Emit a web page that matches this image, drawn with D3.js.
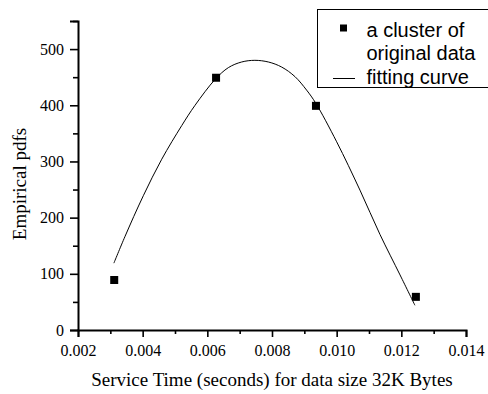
<!DOCTYPE html>
<html>
<head>
<meta charset="utf-8">
<script src="https://cdn.jsdelivr.net/npm/d3@7"></script>
<style>
  body { margin: 0; background: #fff; }
  svg { display: block; }
</style>
</head>
<body>
<div id="chart"></div>
<script>
// observed data cluster
var pointX = [0.00312, 0.00627, 0.00936, 0.01245];
var pointY = [89, 449, 399, 59];

// fitting curve
var curveX = [0.00311, 0.00345, 0.00402, 0.00459, 0.00521, 0.00562, 0.00624, 0.00665, 0.00706, 0.00747,
              0.00789, 0.00830, 0.00871, 0.00907, 0.00935, 0.01000, 0.01072, 0.01134, 0.01196, 0.01242];
var curveY = [119, 166, 239, 304, 364, 400, 446, 467, 477, 480,
              477, 468, 451, 427, 404, 335, 249, 170, 98, 44];

var xTicks = [0.002, 0.004, 0.006, 0.008, 0.010, 0.012, 0.014];
var yTicks = [0, 100, 200, 300, 400, 500];
var legendLabels = ["a cluster of", "original data", "fitting curve"];

var serif = "'Liberation Serif', 'Times New Roman', serif";
var sans = "'Liberation Sans', Arial, sans-serif";

var width = 488, height = 394;
var margin = {top: 21, right: 22, bottom: 64, left: 78};
var w = width - margin.left - margin.right;
var h = height - margin.top - margin.bottom;

var svg = d3.select("#chart").append("svg")
    .attr("width", width)
    .attr("height", height);

var g = svg.append("g")
    .attr("transform", "translate(" + margin.left + "," + margin.top + ")");

var x = d3.scaleLinear().domain([0.002, 0.014]).range([0, w]);
var y = d3.scaleLinear().domain([0, 550]).range([h, 0]);

// minor ticks first
g.append("g")
    .attr("class", "x minor")
    .attr("transform", "translate(0," + h + ")")
    .call(d3.axisBottom(x).tickValues(d3.range(0.003, 0.014, 0.002)).tickSize(4).tickFormat(""));
g.append("g")
    .attr("class", "y minor")
    .call(d3.axisLeft(y).tickValues(d3.range(50, 551, 100)).tickSize(5).tickFormat(""));

var xAxis = d3.axisBottom(x)
    .tickValues(xTicks)
    .tickSize(7)
    .tickPadding(8)
    .tickFormat(d3.format(".3f"));
var yAxis = d3.axisLeft(y)
    .tickValues(yTicks)
    .tickSize(8)
    .tickPadding(6)
    .tickFormat(d3.format("d"));

var gx = g.append("g")
    .attr("class", "x axis")
    .attr("transform", "translate(0," + h + ")")
    .call(xAxis);
var gy = g.append("g")
    .attr("class", "y axis")
    .call(yAxis);

[gx, gy].forEach(function(a) {
  a.attr("font-family", serif).attr("font-size", 16);
  a.selectAll("text")
    .attr("fill", "#000")
    .style("font-family", serif)
    .style("font-size", "16px");
});

g.selectAll(".domain").attr("stroke-width", 2);
g.selectAll(".minor .domain").remove();
g.selectAll(".tick line").attr("stroke-width", 1.6);

// fitting curve
var curveData = curveX.map(function(d, i) { return [d, curveY[i]]; });
var line = d3.line()
    .x(function(d) { return x(d[0]); })
    .y(function(d) { return y(d[1]); })
    .curve(d3.curveCatmullRom.alpha(0.5));

g.append("path")
    .datum(curveData)
    .attr("d", line)
    .attr("fill", "none")
    .attr("stroke", "#000")
    .attr("stroke-width", 1);

// points
var pts = pointX.map(function(d, i) { return [d, pointY[i]]; });
var s = 8;
g.selectAll("rect.pt")
    .data(pts)
  .enter().append("rect")
    .attr("class", "pt")
    .attr("x", function(d) { return x(d[0]) - s / 2; })
    .attr("y", function(d) { return y(d[1]) - s / 2; })
    .attr("width", s)
    .attr("height", s)
    .attr("fill", "#000");

// axis titles
svg.append("text")
    .attr("x", margin.left + w / 2)
    .attr("y", 386)
    .attr("text-anchor", "middle")
    .attr("font-family", serif)
    .attr("font-size", 19)
    .text("Service Time (seconds) for data size 32K Bytes");

svg.append("text")
    .attr("transform", "translate(26,184)rotate(-90)")
    .attr("text-anchor", "middle")
    .attr("font-family", serif)
    .attr("font-size", 19)
    .text("Empirical pdfs");

// legend
var legend = svg.append("g").attr("class", "legend");
legend.append("rect")
    .attr("x", 317.5)
    .attr("y", 9.5)
    .attr("width", 180)
    .attr("height", 78)
    .attr("fill", "#fff")
    .attr("stroke", "#000")
    .attr("stroke-width", 1);

legend.append("rect")
    .attr("x", 340)
    .attr("y", 24.5)
    .attr("width", 7)
    .attr("height", 7)
    .attr("fill", "#000");

legend.append("line")
    .attr("x1", 333)
    .attr("x2", 355)
    .attr("y1", 78.5)
    .attr("y2", 78.5)
    .attr("stroke", "#000")
    .attr("stroke-width", 1);

legend.selectAll("text.lab")
    .data(legendLabels)
  .enter().append("text")
    .attr("class", "lab")
    .attr("x", 366.5)
    .attr("y", function(d, i) { return 36.5 + i * 23.5; })
    .attr("font-family", sans)
    .attr("font-size", 20)
    .text(function(d) { return d; });
</script>
</body>
</html>
